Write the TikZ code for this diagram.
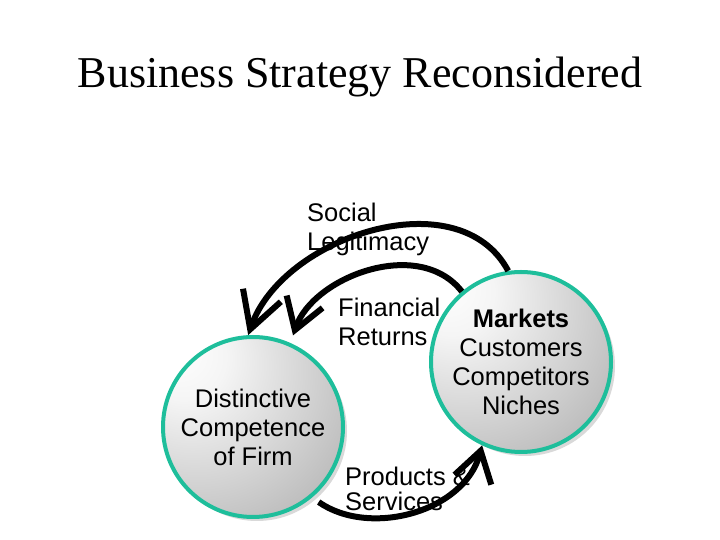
\documentclass[tikz,border=0pt]{standalone}
\usepackage{fontspec}
\setmainfont{Liberation Sans}
\newfontfamily\titlefont{Liberation Serif}
\usepackage{xcolor}
\usetikzlibrary{arrows.meta,shadows}

\definecolor{rimteal}{RGB}{30,190,155}
\pgfdeclareradialshading{pearl}{\pgfpoint{-22bp}{22bp}}{color(0bp)=(white); color(12bp)=(white!96!black); color(80bp)=(black!52); color(100bp)=(black!52)}

\begin{document}
\begin{tikzpicture}[x=1pt,y=1pt]
  \tikzset{disc/.style = {circle, minimum size=180pt, inner sep=0pt, draw=rimteal, line width=4pt, shading=pearl,
      drop shadow={shadow xshift=4pt, shadow yshift=-4pt, opacity=0.3}, align=center, font=\fontsize{25.5}{29}\selectfont}}
  \tikzset{flowtext/.style = {anchor=north west, inner sep=0pt, align=left, font=\fontsize{25.5}{29}\selectfont}}
  \tikzset{flow/.style = {-{Straight Barb[length=30pt,width=38pt]}, line width=6pt}}

  \useasboundingbox (0,0) rectangle (720,540);
  \node[anchor=base, font=\titlefont\fontsize{44}{50}\selectfont] (title) at (360,452) {Business Strategy Reconsidered};

  % labels
  \node[flowtext] (social) at (307,337) {Social\\Legitimacy};
  \node[flowtext] (returns) at (338,242) {Financial\\Returns};
  \node[flowtext, font=\fontsize{25.5}{25}\selectfont] (products) at (345,73) {Products \&\\Services};

  % discs
  \node[disc] (firm) at (253,113) {Distinctive\\Competence\\of Firm};
  \node[disc] (mkt) at (521,178) {\textbf{Markets}\\Customers\\Competitors\\Niches};

  % arrows
  \draw[flow, -{Straight Barb[length=36pt,width=40pt]}] (mkt.98) to[out=118,in=71] (firm.93);
  \draw[flow, shorten >=8pt] (mkt.130) to[out=128,in=71] (firm.66);
  \draw[flow, shorten <=8pt] (firm.-50) to[out=-35,in=255] (mkt.-115);
\end{tikzpicture}
\end{document}
